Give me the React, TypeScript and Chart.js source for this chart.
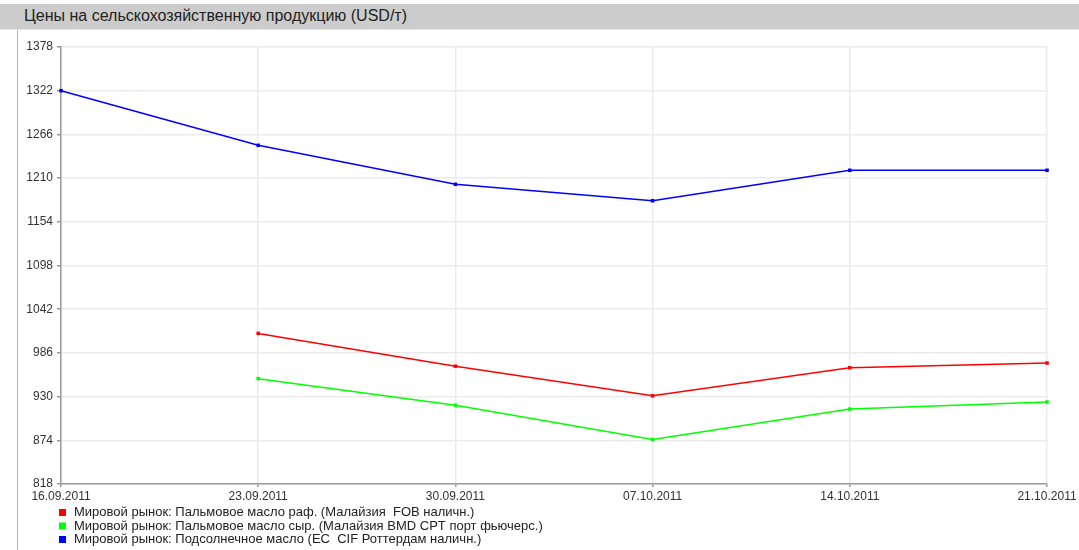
import React, { useEffect, useRef } from 'react';
import { Chart, registerables } from 'chart.js';

Chart.register(...registerables);

const categories = ['16.09.2011', '23.09.2011', '30.09.2011', '07.10.2011', '14.10.2011', '21.10.2011'];
const palmRefined = [null, 1011, 969, 931, 967, 973];
const palmCrude = [null, 953, 919, 875, 914, 923];
const sunflower = [1322, 1252, 1202, 1181, 1220, 1220];
const yTicks = [818, 874, 930, 986, 1042, 1098, 1154, 1210, 1266, 1322, 1378];

const seriesLabels = [
  'Мировой рынок: Пальмовое масло раф. (Малайзия  FOB наличн.)',
  'Мировой рынок: Пальмовое масло сыр. (Малайзия BMD CPT порт фьючерс.)',
  'Мировой рынок: Подсолнечное масло (ЕС  CIF Роттердам наличн.)',
];
const seriesColors = ['#ff0000', '#00ff00', '#0000ff'];

const FONT = '"Liberation Sans", Arial, sans-serif';

const stackedLegend = {
  id: 'stackedLegend',
  afterDraw(chart: any) {
    const ctx = chart.ctx;
    const base = chart.chartArea.bottom;
    ctx.save();
    ctx.font = `13px ${FONT}`;
    ctx.textBaseline = 'middle';
    ctx.textAlign = 'left';
    chart.data.datasets.forEach((ds: any, i: number) => {
      const y = base + 28.5 + i * 13.5;
      ctx.fillStyle = ds.borderColor;
      ctx.fillRect(59, y - 3.5, 7, 7);
      ctx.fillStyle = '#222';
      ctx.fillText(ds.label, 74, y);
    });
    ctx.restore();
  },
};

export default function App() {
  const ref = useRef<HTMLCanvasElement | null>(null);

  useEffect(() => {
    if (!ref.current) return;
    const data = [palmRefined, palmCrude, sunflower];
    const chart = new Chart(ref.current, {
      type: 'line',
      data: {
        labels: categories,
        datasets: data.map((d, i) => ({
          label: seriesLabels[i],
          data: d,
          borderColor: seriesColors[i],
          backgroundColor: seriesColors[i],
          borderWidth: 1.5,
          pointStyle: 'rect',
          pointRadius: 2.5,
          pointHoverRadius: 2.5,
          pointBorderWidth: 0,
          tension: 0,
          clip: false as any,
        })),
      },
      options: {
        responsive: false,
        animation: false,
        devicePixelRatio: 1,
        layout: { padding: { top: 47, left: 0, right: 32, bottom: 44 } },
        plugins: {
          legend: { display: false },
          title: { display: false },
          tooltip: { enabled: false },
        },
        scales: {
          x: {
            type: 'category',
            offset: false,
            grid: { color: '#ebebeb', lineWidth: 1.5, tickColor: '#999', tickLength: 3, drawTicks: true },
            border: { color: '#9a9a9a', width: 1.5 },
            ticks: {
              color: '#333',
              font: { family: FONT, size: 12 },
              padding: 2,
              autoSkip: false,
              maxRotation: 0,
            },
            afterFit: (s: any) => { s.height = 22; },
          },
          y: {
            type: 'linear',
            min: 818,
            max: 1378,
            grid: { color: '#ebebeb', lineWidth: 1.5, tickColor: '#999', tickLength: 4 },
            border: { color: '#9a9a9a', width: 1.5 },
            ticks: {
              color: '#333',
              font: { family: FONT, size: 12 },
              padding: 4,
              callback: (v: any) => String(v),
            },
            afterBuildTicks: (s: any) => { s.ticks = yTicks.map((v) => ({ value: v })); },
            afterFit: (s: any) => { s.width = 61; },
          },
        },
      },
      plugins: [stackedLegend],
    });
    return () => chart.destroy();
  }, []);

  return (
    <div style={{ position: 'absolute', left: 0, top: 0, width: 1079, height: 550, background: '#fff', overflow: 'hidden', fontFamily: FONT }}>
      <div style={{ position: 'absolute', left: 0, top: 4, width: 1079, height: 25, background: '#cccccc', borderBottom: '1px solid #e6e6e6' }}>
        <span style={{ position: 'absolute', left: 24, top: 3, fontSize: 16, color: '#222', whiteSpace: 'nowrap' }}>
          Цены на сельскохозяйственную продукцию (USD/т)
        </span>
      </div>
      <div style={{ position: 'absolute', left: 17, top: 30, width: 1, height: 520, background: '#b4b4b4' }} />
      <canvas ref={ref} width={1079} height={550} style={{ position: 'absolute', left: 0, top: 0, width: 1079, height: 550 }} />
    </div>
  );
}
